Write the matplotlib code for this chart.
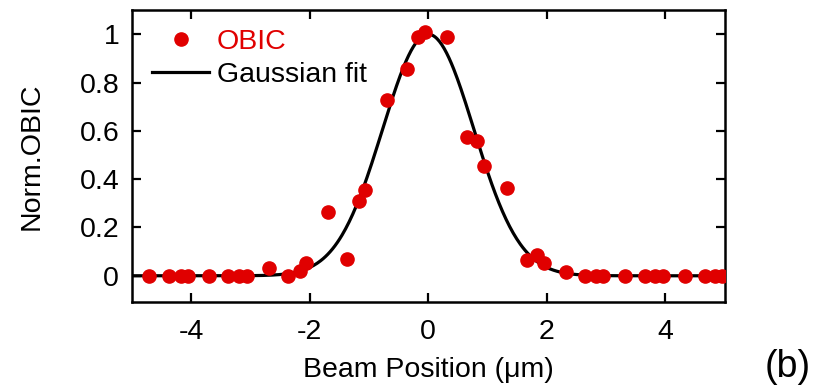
import numpy as np
import matplotlib
matplotlib.use("Agg")
import matplotlib.pyplot as plt
from matplotlib.ticker import FuncFormatter

plt.rcParams["font.family"] = ["Liberation Sans", "DejaVu Sans"]
plt.rcParams["axes.unicode_minus"] = False

# measured OBIC points (beam position in um, normalised signal)
pos = [-4.70, -4.37, -4.17, -4.05, -3.69, -3.37, -3.19, -3.06, -2.69, -2.36,
       -2.17, -2.06, -1.69, -1.37, -1.17, -1.06, -0.70, -0.36, -0.18, -0.06,
       0.32, 0.66, 0.83, 0.94, 1.32, 1.66, 1.84, 1.95, 2.32, 2.64,
       2.83, 2.94, 3.32, 3.65, 3.83, 3.96, 4.33, 4.66, 4.84, 4.96]
obic = [0.0, 0.0, 0.0, 0.0, 0.0, 0.0, 0.0, 0.0, 0.032, 0.0,
        0.018, 0.053, 0.263, 0.069, 0.308, 0.357, 0.726, 0.855, 0.989, 1.011,
        0.990, 0.575, 0.557, 0.454, 0.364, 0.066, 0.087, 0.053, 0.014, 0.0,
        0.0, 0.0, 0.0, 0.0, 0.0, 0.0, 0.0, 0.0, 0.0, 0.0]

# gaussian fit parameters
amp = 1.0
center = 0.0
sigma = 0.77

xfit = np.linspace(-5, 5, 500)
yfit = amp * np.exp(-(xfit - center) ** 2 / (2 * sigma ** 2))

fig = plt.figure(figsize=(8.18, 3.88), dpi=100)
ax = fig.add_axes([0.161, 0.222, 0.725, 0.752])

ax.plot(xfit, yfit, color="black", lw=2.3, label="Gaussian fit", zorder=2)
ax.plot(pos, obic, "o", color="#e00000", markersize=9.5, label="OBIC", zorder=3)

ax.set_xlim(-5, 5)
ax.set_ylim(-0.108, 1.10)
ax.set_xticks([-4, -2, 0, 2, 4])
ax.set_yticks([0, 0.2, 0.4, 0.6, 0.8, 1])
ax.yaxis.set_major_formatter(FuncFormatter(lambda v, p: "%g" % v))

ax.tick_params(direction="in", top=True, right=True, length=6.5, width=1.6,
               labelsize=20.5)
ax.tick_params(axis="x", pad=12)
ax.tick_params(axis="y", pad=9)
for s in ax.spines.values():
    s.set_linewidth(1.8)

ax.set_xlabel("Beam Position (\u03bcm)", fontsize=20.5, labelpad=9)
ax.set_ylabel("Norm.OBIC", fontsize=20.5, labelpad=25)

handles, labels = ax.get_legend_handles_labels()
leg = ax.legend(handles[::-1], labels[::-1], loc="upper left", frameon=False,
                fontsize=20.5, handlelength=2.0, handletextpad=0.25,
                labelspacing=0.25, borderpad=0, borderaxespad=0,
                bbox_to_anchor=(0.035, 0.935))
leg.get_texts()[0].set_color("#e00000")

fig.text(0.963, 0.054, "(b)", fontsize=27, ha="center", va="center")

fig.savefig("out.png", dpi=100)
